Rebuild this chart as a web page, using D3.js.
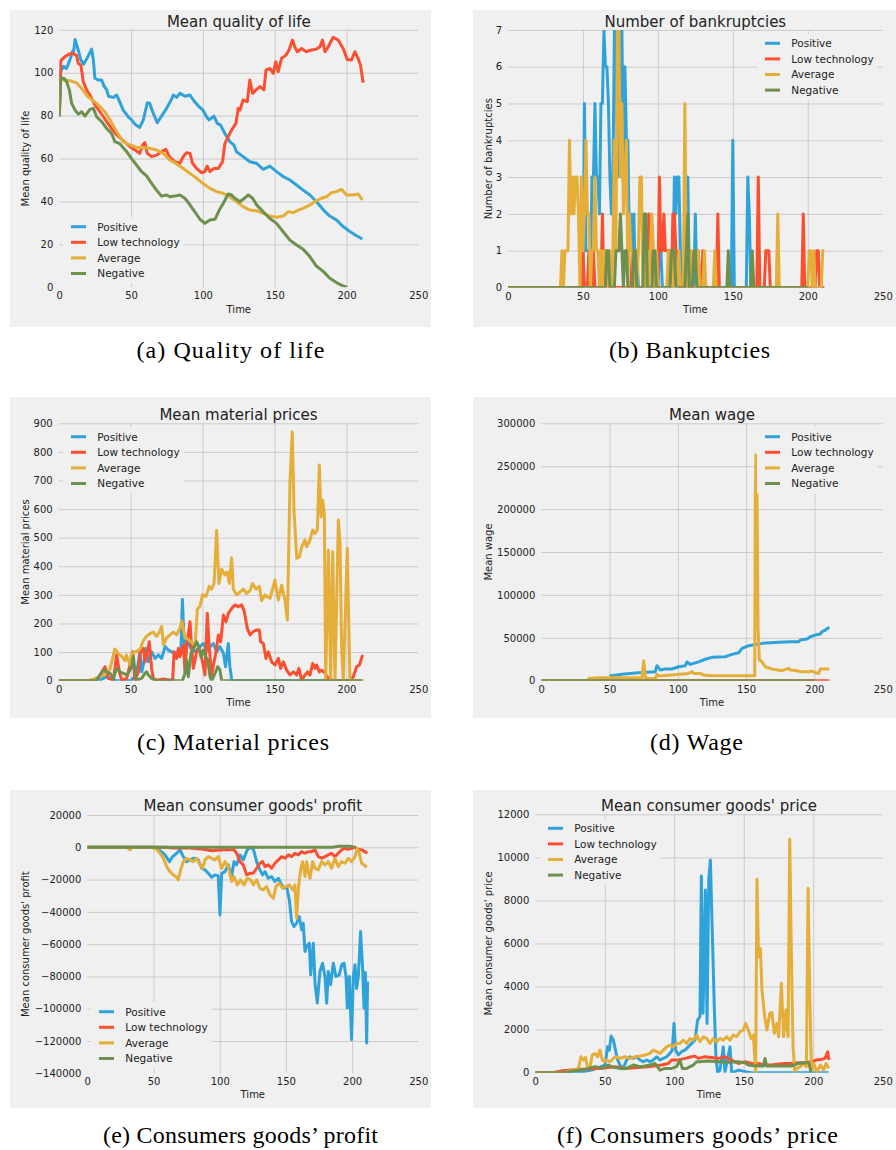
<!DOCTYPE html>
<html><head><meta charset="utf-8">
<script src="https://cdn.jsdelivr.net/npm/d3@7"></script>
<style>body{margin:0;background:#fff} svg text{font-family:"DejaVu Sans",sans-serif;fill:#222}</style>
</head><body><svg id="c" width="896" height="1150"></svg>
<script>
const seriesNames = ["Positive","Low technology","Average","Negative"];
const seriesColors = ["#30a2da","#fc4f30","#e5ae38","#6d904f"];
const timeTicks = [0,50,100,150,200,250];

// (a) Mean quality of life
const qolTicks = [0,20,40,60,80,100,120];
const qolPositive = [[0,80],[1,100.5],[2.8,103],[5,102],[7.4,106],[9.3,110],[10,110],[11,115.5],[13,111],[15,106],[17,104],[19.5,107],[22.5,111],[23.7,106],[24.8,97.4],[27,96.6],[29.5,96.6],[31,94],[33,92],[34.3,89],[37.6,88.5],[40,89.6],[42,86.5],[44.5,82.6],[48,79.5],[50.3,78],[52.7,76],[56,74.5],[58.5,78],[61.3,86],[63,85.7],[65,81.8],[68.2,76.7],[71.2,79.8],[74.7,83.4],[78.2,87.6],[79.4,89.6],[81.7,88.5],[84,90.4],[87.5,89],[91,89.6],[93.3,87.3],[96.8,84.5],[100,82.6],[102.5,79.5],[104.4,78],[107.7,79.8],[110,76.4],[112.3,75.6],[115.3,71.7],[118.8,67.9],[121.6,66.3],[123.4,63.2],[128,60.9],[132.7,58.5],[137.4,57.8],[142,55],[146.6,56.5],[151.3,53.9],[155.9,51.6],[160.6,50],[165.2,47.7],[169.8,45.3],[174.5,43],[179,40],[184,36],[188.4,33.2],[193,31.4],[197.7,28.3],[202.3,26],[207,24],[211,22.5]];
const qolLow = [[0,80],[1,105.6],[4,107.5],[7,108.7],[9.7,109],[12,108],[13.2,104.3],[15,103.6],[16.7,95.8],[19,92],[21.3,89.6],[24.8,85],[28.3,81.8],[33,77.2],[36.4,74],[40,71],[44.5,68.3],[49.2,65.5],[52.7,64],[56,62.4],[58,66.3],[59.6,67.4],[61.3,62.4],[64.3,60.9],[67.7,61.6],[71.2,63.2],[74.2,64.3],[76.6,60.9],[80.5,58.5],[84,57.8],[86.3,60.9],[88.6,62.7],[91,62.4],[92.8,57.8],[95.6,55.4],[99,53.4],[101.4,53.9],[103,56.5],[104.9,53.9],[107.7,55.4],[110.7,55.4],[113.7,58.5],[115.3,67],[117.6,70.2],[120,73.3],[123,76.4],[124.6,83.4],[125.8,82.6],[128,87.3],[130.9,86.5],[132.7,96.6],[134.6,90.4],[137,92],[139.7,93.5],[142.5,92],[143.9,101.2],[146.6,102],[149,99.7],[150.8,105.1],[152.4,100.5],[154.8,106.7],[157.8,108.2],[160,110.6],[162.4,115.2],[164,112],[165.7,109.8],[168.7,111.3],[172,109.8],[175.6,110.6],[178.7,110.9],[181.4,112],[183.3,115.2],[185,109.8],[187.2,112],[190.7,116.5],[194.2,115.2],[197.7,111.3],[200.5,106.2],[203.5,105.9],[205.8,109.8],[208,106.7],[209.7,103.6],[211.6,95.3]];
const qolAverage = [[0,80],[0.5,97.4],[2.8,96.6],[7.4,96.3],[12,95.3],[15.5,92.7],[20,88.8],[26,85.7],[31.8,81.8],[35.3,78],[40,72.5],[44.5,67.9],[49.2,66.3],[53.8,65.2],[58.5,65.2],[63,64.8],[67.7,64],[72.4,62.4],[77,59.3],[81.7,57.5],[86.3,55.4],[91,53.1],[95.6,50.8],[100,48.4],[104.9,46.1],[109.5,44.6],[114,43.8],[118.8,42.2],[123.4,39.9],[128,37.6],[132.7,36],[137.4,35.7],[142,34.5],[146.6,33.2],[151.3,32.6],[155.9,33.2],[159.4,35.2],[162.9,34.8],[166.4,36],[169.8,36.8],[174.5,38.4],[179,40.4],[182.6,41.5],[186,42.2],[189.6,44.1],[193,44.6],[196.5,45.7],[200,43],[204.6,43],[208,43.5],[211,40.7]];
const qolNegative = [[0,79.5],[1,97.4],[3.2,97.4],[5.1,95.8],[7,92],[8.6,85.7],[11,82.6],[13.2,80.7],[15.5,81.8],[17.9,79.8],[21.3,82.9],[23.7,83.4],[26,79.5],[29.5,77.2],[33,74],[36.4,71.7],[38.7,67.9],[42,67],[46.9,63.2],[50.3,60],[53.8,57],[57.3,53.9],[60.8,51.9],[64.3,48.4],[67.7,45.3],[71.2,42.5],[74.7,43],[77,42.2],[80.5,42.5],[84,43],[87.5,41.5],[91,38.4],[94.4,35.2],[97.9,31.7],[101.4,29.8],[104.9,31.4],[108.4,31.7],[111.4,36],[114.2,39.1],[117.6,43.5],[120,43],[122.3,41.5],[125.8,39.9],[128,41],[131.6,43],[134.6,41.5],[137.4,38.4],[142,35.2],[146.6,32.1],[151.3,29.8],[155.9,25.9],[160.6,22],[165.2,19.7],[169.8,17.7],[174.5,14.3],[179,9.9],[184,7.3],[188.4,4.2],[193,2.2],[197.7,0.6],[200.5,0]];

// (b) Number of bankruptcies
const bankTicks = [0,1,2,3,4,5,6,7];
const bankPositive = [[0,0],[50,0],[51,5],[52,1],[53,1],[54,1],[55,0],[56,3],[57,3],[58,5],[59,3],[60,3],[61,2],[62,5],[63,5],[64,7],[65,6],[66,6],[67,5],[68,3],[69,2],[70,3],[71,7],[72,7],[73,3],[74,4],[75,7],[76,7],[77,3],[78,6],[79,4],[80,4],[81,1],[82,2],[83,1],[84,2],[85,0],[86,1],[87,0],[100,0],[101,1],[102,1],[103,0],[110,0],[111,3],[112,2],[113,3],[114,3],[115,1],[116,0],[119,0],[120,3],[121,0],[124,0],[125,2],[126,0],[149,0],[150,4],[151,0],[159,0],[160,3],[161,2],[162,0],[211,0]];
const bankLow = [[0,0],[49,0],[50,1],[51,0],[53,0],[54,1],[55,0],[56,0],[57,1],[58,0],[62,0],[63,2],[64,0],[65,1],[66,0],[82,0],[83,1],[84,0],[93,0],[94,2],[95,1],[96,1],[97,0],[100,0],[101,3],[102,1],[103,1],[104,2],[105,1],[106,1],[107,1],[108,1],[109,0],[110,2],[111,2],[112,1],[113,1],[114,0],[121,0],[122,1],[123,0],[126,0],[127,1],[128,0],[129,0],[130,1],[131,0],[139,0],[140,2],[141,0],[166,0],[167,3],[168,0],[171,0],[172,1],[173,1],[174,1],[175,0],[196,0],[197,2],[198,0],[205,0],[206,1],[207,1],[208,0],[211,0]];
const bankAverage = [[0,0],[35,0],[36,1],[37,0],[38,1],[39,1],[40,1],[41,4],[42,2],[43,3],[44,2],[45,3],[46,3],[47,2],[48,0],[49,3],[50,1],[51,2],[52,4],[53,2],[54,2],[55,0],[56,1],[57,1],[58,3],[59,1],[60,1],[61,0],[62,1],[63,0],[64,1],[65,1],[66,1],[67,0],[68,1],[69,0],[70,1],[71,4],[72,1],[73,7],[74,7],[75,3],[76,5],[77,2],[78,3],[79,4],[80,0],[81,2],[82,1],[83,1],[84,0],[85,1],[86,0],[87,1],[88,3],[89,3],[90,0],[91,1],[92,0],[93,1],[94,0],[95,1],[96,2],[97,1],[98,0],[99,1],[100,0],[106,0],[107,1],[108,0],[110,0],[111,1],[112,0],[113,0],[114,1],[115,0],[117,0],[118,5],[119,0],[121,0],[122,1],[123,0],[126,0],[127,1],[128,0],[130,0],[131,1],[132,0],[137,0],[138,1],[139,0],[179,0],[180,2],[181,0],[200,0],[201,1],[202,1],[203,0],[204,1],[205,0],[209,0],[210,1],[211,1]];
const bankNegative = [[0,0],[65,0],[66,1],[67,1],[68,0],[71,0],[72,1],[73,1],[74,1],[75,2],[76,1],[77,0],[78,1],[79,1],[80,0],[83,0],[84,1],[85,1],[86,0],[90,0],[91,2],[92,2],[93,0],[96,0],[97,1],[98,1],[99,0],[108,0],[109,1],[110,1],[111,1],[112,0],[118,0],[119,1],[120,2],[121,0],[123,0],[124,1],[125,1],[126,0],[146,0],[147,1],[148,0],[162,0],[163,1],[164,0],[200,0]];

// (c) Mean material prices
const matTicks = [0,100,200,300,400,500,600,700,800,900];
const matPositive = [[0,0],[28,0],[31,8],[34,15],[37,5],[40,0],[50,0],[54,20],[56.5,101],[57.7,31],[59.3,66],[60.7,113],[62.3,66],[64.6,101],[67,78],[69.3,90],[71.6,78],[74,120],[76.2,107],[78.5,101],[80.9,96],[83.2,101],[85,113],[86,285],[87.3,119],[89,142],[91.3,119],[93.6,101],[95.8,107],[98.2,119],[100.5,130],[102.9,107],[105.2,119],[107.5,130],[109.8,101],[112.1,119],[114.5,96],[116,49],[117.9,130],[119,49],[120.3,2],[121,0],[211,0]];
const matLow = [[0,0],[24,0],[27.6,10],[32.2,49],[34.5,8],[38,3],[40.3,90],[42.2,31],[43.8,2],[47.3,8],[50,66],[51.4,101],[53,2],[55.4,31],[56.5,96],[58.9,113],[60,66],[61.6,101],[63,136],[64.6,43],[65.8,8],[68.1,2],[72.8,6],[79.2,0],[80.2,101],[82,78],[83.2,113],[84.3,84],[86.7,125],[87.8,31],[89,125],[91.3,206],[92.4,113],[93.6,43],[95.9,101],[97.8,113],[100,66],[101.7,20],[103.3,236],[104.7,113],[106.3,20],[108,66],[109.4,101],[111,160],[112.6,136],[114.5,230],[116.3,206],[118,236],[120.3,253],[122.6,265],[124.9,259],[127.2,265],[129,242],[131.1,183],[133,160],[135.3,172],[137.2,177],[139.5,177],[140.4,136],[142.3,130],[144.1,78],[145.7,101],[148,66],[150.4,55],[152.7,78],[154.3,43],[156.2,66],[158.5,37],[160.8,20],[163.1,31],[165.4,20],[167,43],[168.9,2],[171.2,20],[173,31],[174.7,20],[176.6,60],[178.2,43],[179.3,55],[181.2,31],[182.8,37],[185.1,26],[187.4,8],[190.9,0],[202.5,0],[204.8,14],[207.1,49],[209,55],[211.3,90]];
const matAverage = [[0,0],[20,0],[24,5],[31,20],[35.7,40],[39,111],[41.5,95],[43.8,85],[46,70],[47,90],[49.6,55],[50.7,95],[53,100],[56.5,110],[58.9,140],[61,155],[63.5,165],[65.8,170],[68,155],[70,170],[71.6,190],[72.8,125],[75,150],[77.4,160],[79.7,170],[82,160],[84.3,185],[85.5,210],[87.8,150],[90,145],[92.4,135],[94.8,120],[96.4,250],[98.2,260],[100,300],[102.4,295],[104.7,330],[106.3,320],[108,340],[109.8,525],[111.4,340],[113.3,390],[115.6,370],[117.2,380],[118.6,340],[120.2,430],[121.4,320],[123.7,300],[126,310],[128.4,320],[130.7,305],[133,315],[134.8,340],[137.2,320],[139.5,330],[141.1,280],[143.4,300],[146.9,288],[150.3,352],[152.7,282],[155,334],[157.3,282],[159,212],[160.8,696],[162.4,870],[163.6,591],[165.5,428],[167.3,433],[168.9,468],[171.2,492],[172.4,468],[174.7,492],[176.6,527],[178.2,515],[179.8,527],[181.2,754],[182.4,573],[183.5,632],[184.7,579],[185.6,0],[187.5,457],[189.1,0],[190.5,451],[192.1,0],[194.4,562],[195.6,480],[196.7,107],[197.9,0],[200.6,463],[202.5,0],[212,0]];
const matNegative = [[0,0],[26,0],[28.7,20],[31,37],[33.4,31],[35.7,26],[38,8],[40.3,43],[42.6,31],[45,26],[47.3,20],[49.6,37],[50.7,49],[51.9,84],[53,31],[54.2,2],[57.7,8],[60,26],[61.2,31],[62.3,20],[64.6,8],[67,2],[69.3,0],[86,0],[87.8,26],[89,72],[90.1,14],[92,96],[94.3,119],[95.9,136],[97.5,119],[98.9,84],[100.6,107],[102.2,84],[103.6,72],[105.2,14],[106.3,0],[108.7,26],[110.5,49],[112.1,37],[113.3,0],[211,0]];

// (d) Mean wage
const wageTicks = [0,50000,100000,150000,200000,250000,300000];
const wagePositive = [[50,5400],[59,7400],[71.3,9300],[83.5,10500],[84.7,17500],[87.2,12400],[90.8,13600],[95.7,13600],[100.6,16300],[105.5,17500],[106.7,22000],[109,19000],[115.2,22000],[120,25000],[125,27200],[134.8,28000],[139.6,30700],[144.5,32600],[147,37700],[151.9,40800],[156.7,42300],[161.6,43500],[173.8,44700],[183.6,45500],[188.5,45500],[189.7,47400],[194.6,48600],[197,51300],[200.7,53200],[204.3,54400],[205.6,57100],[208,59000],[210.9,62200]];
const wageLow = [[0,0],[211,0]];
const wageAverage = [[0,0],[34,0],[34.7,2700],[42,3500],[59,3500],[71.3,3500],[73.7,2700],[75,23300],[76.2,3500],[78.6,2700],[83.5,2700],[84.7,7400],[85.9,5400],[95.7,6600],[107.9,8500],[110.4,10500],[111.6,8500],[116.5,8500],[118.9,6600],[125,5800],[144.5,5800],[156.3,5800],[156.7,216000],[157.2,263000],[158,216000],[158.7,61000],[159.7,24000],[161.6,22000],[164,16300],[168.9,13600],[176.3,11700],[181.2,14400],[182.4,12400],[186,12000],[190.9,10500],[195.8,10500],[198.2,11300],[200.7,9300],[203.1,8500],[204.3,13600],[210.9,13600]];
const wageNegative = [[0,0],[200,0]];

// (e) Mean consumer goods' profit
const profitTicks = [-140000,-120000,-100000,-80000,-60000,-40000,-20000,0,20000];
const profitPositive = [[0,0],[50,0],[52.4,-600],[56,-2700],[58.7,-4700],[62,-8900],[64.5,-5800],[67.5,-3700],[70,-1600],[72.5,-5800],[75,-8900],[77.5,-7800],[80.6,-6800],[83.8,-7800],[86.4,-13000],[88.9,-14000],[91.4,-16100],[93.9,-18600],[96.4,-17100],[98.9,-17700],[100.2,-41900],[101.5,-16100],[104,-15100],[106.5,-10900],[109,-18100],[110.8,-8900],[112.8,-10900],[115.3,-4700],[117.8,-7800],[120.8,-1600],[123.4,0],[125.4,-1200],[127.9,-8900],[130.4,-14000],[132.4,-17100],[134.2,-15100],[136.7,-19200],[139.2,-18100],[141.7,-21200],[144.3,-19200],[146.8,-23300],[148.5,-25400],[150.6,-24300],[152.6,-32600],[154.3,-46000],[156.1,-49100],[158.1,-47000],[160.1,-42900],[161.9,-51100],[163.1,-47000],[164.4,-64500],[165.7,-61400],[167.7,-59400],[168.7,-79000],[170.7,-59400],[172,-84100],[173.7,-96500],[175.7,-76900],[177.7,-71800],[179.5,-80000],[180.8,-96500],[182,-76900],[183.8,-85100],[185.8,-71800],[187.8,-80000],[190.3,-79000],[192.1,-72800],[193.9,-71800],[195.4,-80000],[196.4,-99600],[197.9,-80000],[199.6,-119200],[200.9,-80000],[202.2,-72800],[203.4,-87500],[204.7,-80000],[206.4,-52200],[208,-76000],[209,-99600],[210,-77500],[211,-121200],[211.7,-83100]];
const profitLow = [[0,0],[60,0],[65,-500],[75,-300],[87.6,-1200],[94,-2100],[102.7,-1600],[110.8,-1600],[112.8,-3700],[115.3,-8900],[117.8,-10900],[120.3,-17100],[122.9,-16100],[125.4,-16100],[127.9,-13000],[130.4,-9900],[132.4,-8900],[134.2,-12000],[136.7,-10900],[139.2,-13000],[141.7,-9900],[144.3,-7800],[146.8,-5800],[149.3,-6800],[151.8,-4700],[154.3,-5800],[156.8,-3700],[159.4,-4700],[161.9,-2700],[164.4,-3700],[166.9,-2700],[169.4,-2700],[172,-1600],[174.5,-5800],[177,-6800],[179.5,-5800],[182,-4700],[184.5,-3700],[187,-5800],[189.6,-3700],[192.1,-1600],[194.6,-600],[197.1,-1200],[199.6,-600],[202.2,0],[204.7,-1200],[207.2,-1600],[209.7,-2700],[211.5,-3700]];
const profitAverage = [[0,0],[30,0],[32.2,-1600],[34,0],[48,0],[52.4,-1200],[54.9,-3700],[57.4,-6800],[59.9,-12000],[62.4,-15100],[65,-17100],[67.5,-18600],[68.7,-20200],[70.5,-14000],[72.5,-8900],[75,-6800],[77.5,-7800],[80,-8900],[82.6,-6800],[85.1,-10900],[87.1,-13000],[88.9,-7800],[91.4,-5800],[93.9,-6800],[96.4,-7800],[98.9,-5800],[101.5,-13000],[104,-8900],[106.5,-12000],[109,-21200],[110.8,-18100],[113.3,-23300],[115.8,-20200],[118.3,-23300],[120.8,-19200],[123.4,-20200],[125.4,-23300],[127.9,-20200],[130.4,-25400],[132.9,-26400],[135.4,-24300],[138,-29500],[140.5,-31500],[142.5,-24300],[145,-22300],[147.5,-25400],[150,-24300],[152.6,-23300],[155.1,-26400],[156.8,-23300],[158.1,-43900],[159.6,-24300],[161.1,-14000],[162.6,-8900],[164.4,-18100],[165.7,-8900],[166.9,-15100],[168.2,-19200],[170.2,-8900],[172,-13000],[174.5,-14000],[177,-8900],[179.5,-10900],[182,-8900],[184.5,-13000],[187,-6800],[189.6,-12000],[192.1,-8900],[194.6,-9900],[197.1,-6800],[199.6,-8900],[202.2,-5800],[203.9,-600],[205.4,-3700],[207.2,-9900],[209,-10900],[211,-12400]];
const profitNegative = [[0,0],[185,0],[190,600],[198,600],[202,0]];

// (f) Mean consumer goods' price
const priceTicks = [0,2000,4000,6000,8000,10000,12000];
const pricePositive = [[0,0],[30,0],[40.6,120],[50.2,355],[52,1200],[53.3,1050],[54.5,1700],[56.2,1520],[57.4,1130],[59.3,590],[60.9,355],[63.3,200],[65.7,590],[68.1,740],[70.5,665],[72.9,740],[75.3,590],[77.7,510],[80.1,590],[82.5,510],[84.9,590],[87.3,740],[89.7,590],[92.1,665],[94.5,740],[96.9,895],[98.6,1050],[99.8,2290],[101,1050],[102.9,820],[105.3,975],[107.7,1050],[110.1,1200],[112.5,1360],[114.9,1510],[116.8,2440],[118.5,2600],[119.5,9130],[120.7,2760],[122.4,8480],[123.6,2290],[124.8,8950],[126,9880],[127.2,6935],[128.8,3065],[130,743],[131.2,0],[132.9,120],[135.3,1200],[136.5,50],[140.1,1200],[141.3,0],[146.4,120],[151.2,50],[155,0],[211,0]];
const priceLow = [[0,0],[12,0],[21,100],[30,150],[45,200],[57.4,280],[64.5,200],[81.3,280],[90.9,355],[95.7,430],[98.1,590],[102.9,590],[107.7,665],[112.5,740],[114.9,770],[117.3,665],[122.1,740],[126.9,710],[131.7,665],[136.5,740],[141.3,590],[146.1,430],[150.9,510],[155.7,430],[160.5,430],[165.3,355],[170.1,355],[174.9,400],[179.7,430],[184.4,430],[189.3,460],[194.1,460],[198.9,510],[202.5,590],[206.1,620],[208.5,665],[210.4,970],[211.3,590]];
const priceAverage = [[0,0],[20,0],[26,120],[31,200],[32.9,740],[34.6,590],[36.2,710],[37.7,200],[39.4,280],[41,820],[43,895],[44.9,740],[46.6,1050],[48.2,590],[49.7,510],[51.4,590],[53.8,510],[57.4,740],[60.9,665],[64.5,740],[68.1,665],[71.7,740],[75.3,770],[78.9,820],[82.5,895],[84.9,1050],[87.3,975],[89.7,895],[92.1,1050],[94.5,1200],[96.9,1280],[99.3,1200],[101.7,1360],[104.1,1360],[106.5,1510],[109,1360],[111.3,1590],[113.7,1510],[116.1,1750],[118.5,1440],[121,1670],[123.3,1590],[125.7,1360],[128.1,1590],[130.5,1440],[132.9,1590],[135.3,1510],[137.7,1670],[140.1,1510],[142.5,1750],[144.9,1670],[147.3,1900],[149.7,1980],[151.4,2285],[153.3,1980],[155.2,1590],[156.9,1750],[158.6,0],[159.5,8980],[160.7,5390],[162,5770],[163.1,3840],[165.1,2600],[166.7,1980],[168.7,2760],[170.3,2790],[172,1830],[173.9,2290],[175.1,1670],[177.1,4150],[178.7,1670],[180.4,2910],[181.9,1670],[183.1,10840],[184.3,5390],[185.5,1200],[186.7,50],[188.3,200],[190.7,280],[193.1,430],[195.1,280],[196.3,8560],[197.5,3840],[198.7,50],[200.3,430],[202.7,50],[205.1,355],[207.5,120],[209.2,430],[211.1,200]];
const priceNegative = [[0,0],[20,0],[28.6,90],[35.8,150],[43,280],[47.8,200],[52.6,355],[56.2,250],[60.9,200],[65.7,200],[70.5,355],[75.3,280],[78.9,310],[82.5,355],[86.1,430],[89.7,120],[93.3,200],[98.1,200],[101.7,280],[104.1,590],[105.8,200],[109,200],[111.3,280],[113.7,355],[116.1,510],[118.5,510],[124.5,540],[131.7,510],[138.9,480],[146.1,510],[150.9,460],[153.3,355],[155.7,330],[160.5,310],[164.1,310],[165.3,660],[166.5,310],[174.9,310],[184.4,310],[189.3,430],[194.1,460],[196.9,460],[198.4,0]];

const panels = [
  {title:"Mean quality of life", ylabel:"Mean quality of life", caption:"(a) Quality of life", ticks:qolTicks, data:[qolPositive,qolLow,qolAverage,qolNegative],
   bg:[10,10,421,317], l:59.3,t:29.8,r:418.3,b:287.3, titleY:26.5, xlabY:313, ylabX:25, legX:71, legY:226.7, capX:230.5, capY:358, capW:188},
  {title:"Number of bankruptcies", ylabel:"Number of bankruptcies", caption:"(b) Bankuptcies", ticks:bankTicks, data:[bankPositive,bankLow,bankAverage,bankNegative],
   bg:[473,10,423,317], l:508,t:29.9,r:882.7,b:287.5, titleY:26.5, xlabY:313, ylabX:488.7, legX:765, legY:43.3, capX:689.5, capY:358, capW:161},
  {title:"Mean material prices", ylabel:"Mean material prices", caption:"(c) Material prices", ticks:matTicks, data:[matPositive,matLow,matAverage,matNegative],
   bg:[10,397,421,321], l:58.7,t:423.3,r:418.3,b:680.7, titleY:419.5, xlabY:706, ylabX:25, legX:71, legY:436.7, capX:233, capY:750, capW:192},
  {title:"Mean wage", ylabel:"Mean wage", caption:"(d) Wage", ticks:wageTicks, data:[wagePositive,wageLow,wageAverage,wageNegative],
   bg:[473,397,423,321], l:541.3,t:423.3,r:882.7,b:680.7, titleY:419.5, xlabY:706, ylabX:488, legX:765, legY:436.7, capX:696.5, capY:750, capW:93},
  {title:"Mean consumer goods' profit", ylabel:"Mean consumer goods' profit", caption:"(e) Consumers goods\u2019 profit", ticks:profitTicks, data:[profitPositive,profitLow,profitAverage,profitNegative],
   bg:[10,790,421,318], l:87.3,t:815,r:418.3,b:1073.3, titleY:811, xlabY:1098, ylabX:25, legX:99, legY:1011.7, capX:240.5, capY:1143, capW:275},
  {title:"Mean consumer goods' price", ylabel:"Mean consumer goods' price", caption:"(f) Consumers goods\u2019 price", ticks:priceTicks, data:[pricePositive,priceLow,priceAverage,priceNegative],
   bg:[473,790,423,318], l:535.3,t:814.3,r:882.7,b:1072.7, titleY:811, xlabY:1098, ylabX:488, legX:548, legY:828.3, capX:697.5, capY:1143, capW:281}
];

const svg = d3.select("#c");
panels.forEach((p, i) => {
  const g = svg.append("g");
  g.append("rect").attr("x",p.bg[0]).attr("y",p.bg[1]).attr("width",p.bg[2]).attr("height",p.bg[3]).attr("fill","#f0f0f0");
  const x = d3.scaleLinear().domain([0,250]).range([p.l,p.r]);
  const y = d3.scaleLinear().domain(d3.extent(p.ticks)).range([p.b,p.t]);
  const fmt = d3.format("d");
  const gy = g.append("g").attr("transform",`translate(${p.l},0)`)
    .call(d3.axisLeft(y).tickValues(p.ticks.slice(1)).tickSize(-(p.r-p.l)).tickFormat(""));
  const gx = g.append("g").attr("transform",`translate(0,${p.b})`)
    .call(d3.axisBottom(x).tickValues(timeTicks.slice(1,-1)).tickSize(-(p.b-p.t)).tickFormat(""));
  [gy,gx].forEach(a => { a.select(".domain").remove(); a.selectAll("line").attr("stroke","#cbcbcb").attr("stroke-width",1); });
  const ly = g.append("g").attr("transform",`translate(${p.l},0)`)
    .call(d3.axisLeft(y).tickValues(p.ticks).tickSize(0).tickPadding(6).tickFormat(fmt));
  const lx = g.append("g").attr("transform",`translate(0,${p.b})`)
    .call(d3.axisBottom(x).tickValues(timeTicks).tickSize(0).tickPadding(5).tickFormat(fmt));
  [ly,lx].forEach(a => { a.select(".domain").remove(); a.attr("font-family",null).attr("font-size",null);
    a.selectAll("text").style("font-size","10px").style("fill","#222"); });
  const cid = "clip"+i;
  g.append("clipPath").attr("id",cid).append("rect").attr("x",p.l).attr("y",p.t).attr("width",p.r-p.l).attr("height",p.b-p.t);
  const line = d3.line().x(d => x(d[0])).y(d => y(d[1]));
  const lg = g.append("g").attr("clip-path",`url(#${cid})`);
  p.data.forEach((s, k) => {
    lg.append("path").attr("d",line(s)).attr("fill","none").attr("stroke",seriesColors[k])
      .attr("stroke-width",3).attr("stroke-linejoin","round");
  });
  const leg = g.append("g");
  const box = leg.append("rect").attr("fill","#f0f0f0");
  let maxW = 0;
  seriesNames.forEach((n, k) => {
    const yy = p.legY + k*15.6;
    leg.append("line").attr("x1",p.legX).attr("x2",p.legX+15).attr("y1",yy).attr("y2",yy)
      .attr("stroke",seriesColors[k]).attr("stroke-width",3);
    const tx = leg.append("text").attr("x",p.legX+26.3).attr("y",yy+3.8).style("font-size","10.5px").text(n);
    maxW = Math.max(maxW, tx.node().getComputedTextLength());
  });
  box.attr("x",p.legX-8).attr("y",p.legY-9.5).attr("width",26.3+maxW+12).attr("height",3*15.6+19.5);
  g.append("text").attr("x",(p.l+p.r)/2).attr("y",p.titleY).attr("text-anchor","middle").style("font-size","15px").text(p.title);
  g.append("text").attr("x",(p.l+p.r)/2).attr("y",p.xlabY).attr("text-anchor","middle").style("font-size","10px").text("Time");
  g.append("text").attr("transform",`translate(${p.ylabX},${(p.t+p.b)/2}) rotate(-90)`).attr("text-anchor","middle")
    .attr("dy","0.35em").style("font-size","10px").text(p.ylabel);
  svg.append("text").attr("x",p.capX).attr("y",p.capY).attr("text-anchor","middle")
    .attr("textLength",p.capW).attr("lengthAdjust","spacing")
    .style("font-family","'Liberation Serif',serif").style("font-size","24px").style("fill","#000").text(p.caption);
});
</script></body></html>
